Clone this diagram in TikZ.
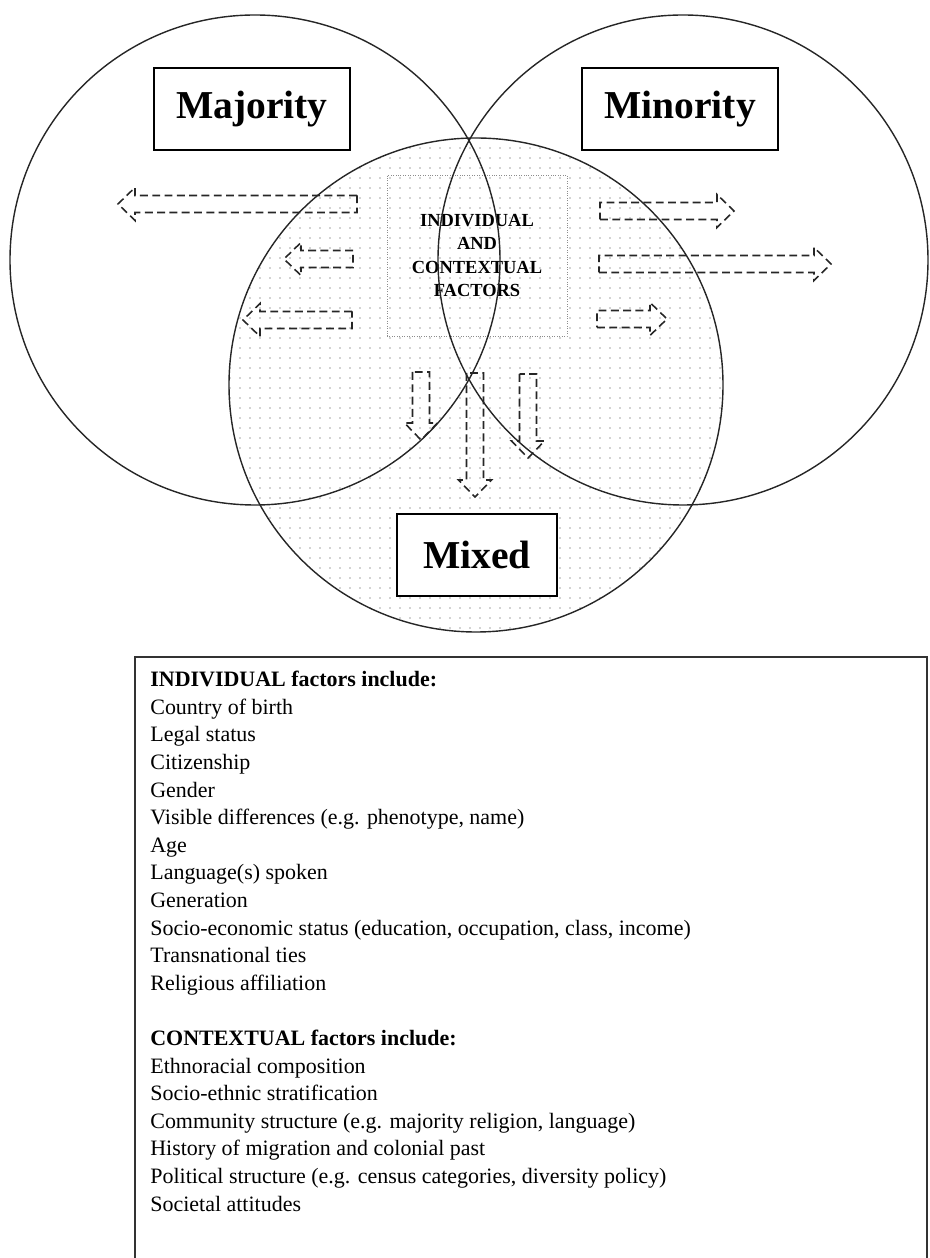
\documentclass[tikz,border=0pt]{standalone}
\usepackage{fontspec}
\setmainfont{Liberation Serif}
\usetikzlibrary{patterns.meta}

\tikzset{
    ring/.style={draw=black!85, line width=0.8pt},
    groupbox/.style={draw, line width=0.9pt, fill=white, minimum width=#1,
        minimum height=1.64cm, inner sep=0pt, font=\fontsize{22.5}{26}\selectfont\bfseries},
    factorbox/.style={draw=black!45, line width=0.4pt, densely dotted, minimum width=3.6cm,
        minimum height=3.22cm, align=center, font=\fontsize{10.5}{13.4}\selectfont\bfseries},
    flowline/.style={draw=black!85, line width=0.9pt, dash pattern=on 4.5pt off 2.5pt},
}

% dashed block arrow: tail x, tail y, length, direction
\newcommand{\flowarrow}[4]{%
    \draw[flowline, shift={(#1,#2)}, rotate=#4]
        (0,-0.17) -- (#3-0.34,-0.17) -- (#3-0.34,-0.33) -- (#3,0)
        -- (#3-0.34,0.33) -- (#3-0.34,0.17) -- (0,0.17) -- cycle;
}

\begin{document}
\begin{tikzpicture}
    \useasboundingbox (0,0) rectangle (18.6,25.16);

    % Dotted mixed circle
    \fill[pattern={Dots[distance=0.2cm, radius=0.4pt]}, pattern color=black!75]
        (9.52,17.46) circle (4.94);

    % Factors box in the middle
    \node[factorbox] (factors) at (9.54,20.05) {INDIVIDUAL\\AND\\CONTEXTUAL\\FACTORS};

    % Circles
    \draw[ring] (5.10,19.96) circle (4.90);
    \draw[ring] (13.66,19.96) circle (4.90);
    \draw[ring] (9.52,17.46) circle (4.94);

    % Arrows
    \foreach \tx/\ty/\len/\ang in {7.14/21.08/4.78/180, 7.06/19.98/1.38/180, 7.04/18.76/2.18/180,
        12.00/20.94/2.68/0, 11.98/19.88/4.64/0, 11.94/18.78/1.40/0,
        8.42/17.72/1.36/-90, 9.50/17.70/2.48/-90, 10.56/17.68/1.68/-90} {
        \flowarrow{\tx}{\ty}{\len}{\ang}
    }

    % Group labels
    \node[groupbox=3.92cm] (majority) at (5.04,22.98) {Majority};
    \node[groupbox=3.92cm] (minority) at (13.60,22.98) {Minority};
    \node[groupbox=3.20cm] (mixed) at (9.54,14.06) {Mixed};

    % List of factors
    \draw[line width=0.8pt, draw=black!80] (2.70,0) -- (2.70,12.02) -- (18.54,12.02) -- (18.54,0);
    \node[anchor=north west, inner sep=0pt, align=left, font=\fontsize{12.5}{15.7}\selectfont]
        (factorlist) at (3.0,11.74) {%
        \textbf{INDIVIDUAL factors include:}\\
        Country of birth\\
        Legal status\\
        Citizenship\\
        Gender\\
        Visible differences (e.g. phenotype, name)\\
        Age\\
        Language(s) spoken\\
        Generation\\
        Socio-economic status (education, occupation, class, income)\\
        Transnational ties\\
        Religious affiliation\\[15.7pt]
        \textbf{CONTEXTUAL factors include:}\\
        Ethnoracial composition\\
        Socio-ethnic stratification\\
        Community structure (e.g. majority religion, language)\\
        History of migration and colonial past\\
        Political structure (e.g. census categories, diversity policy)\\
        Societal attitudes};
\end{tikzpicture}
\end{document}
